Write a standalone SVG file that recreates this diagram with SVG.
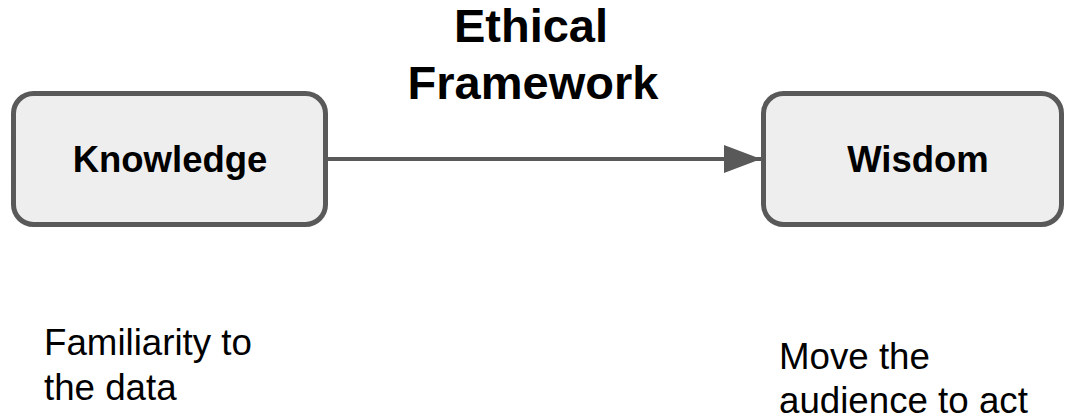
<svg xmlns="http://www.w3.org/2000/svg" width="1066" height="419" viewBox="0 0 1066 419">
  <style>
    .box { fill: #eeeeee; stroke: #595959; stroke-width: 5; }
    .label { font-family: "Liberation Sans", Arial, sans-serif; font-weight: bold; font-size: 36.5px; fill: #000000; text-anchor: middle; }
    .title { font-family: "Liberation Sans", Arial, sans-serif; font-weight: bold; font-size: 47px; fill: #000000; text-anchor: middle; }
    .note { font-family: "Liberation Sans", Arial, sans-serif; font-size: 36.7px; fill: #000000; }
    .edge { stroke: #595959; stroke-width: 4; fill: none; }
  </style>
  <defs>
    <marker id="arrow" markerUnits="userSpaceOnUse" markerWidth="38" markerHeight="30" refX="37" refY="15" orient="auto">
      <path d="M0,1 L37,15 L0,29 Z" fill="#595959"/>
    </marker>
  </defs>
  <rect width="1066" height="419" fill="#ffffff"/>

  <g id="connectors">
    <line class="edge" x1="328" y1="159" x2="761" y2="159" marker-end="url(#arrow)"/>
  </g>

  <g id="title">
    <text class="title" x="531" y="42">Ethical</text>
    <text class="title" x="533" y="99">Framework</text>
  </g>

  <g id="knowledge">
    <rect class="box" x="13.5" y="93.5" width="312" height="131" rx="20" ry="20"/>
    <text class="label" x="170" y="172">Knowledge</text>
  </g>

  <g id="wisdom">
    <rect class="box" x="763.5" y="93.5" width="298" height="131" rx="20" ry="20"/>
    <text class="label" x="918" y="172">Wisdom</text>
  </g>

  <g id="knowledge-note">
    <text class="note" x="44" y="355">Familiarity to</text>
    <text class="note" x="44" y="400">the data</text>
  </g>

  <g id="wisdom-note">
    <text class="note" x="779" y="369">Move the</text>
    <text class="note" x="779" y="413">audience to act</text>
  </g>
</svg>
